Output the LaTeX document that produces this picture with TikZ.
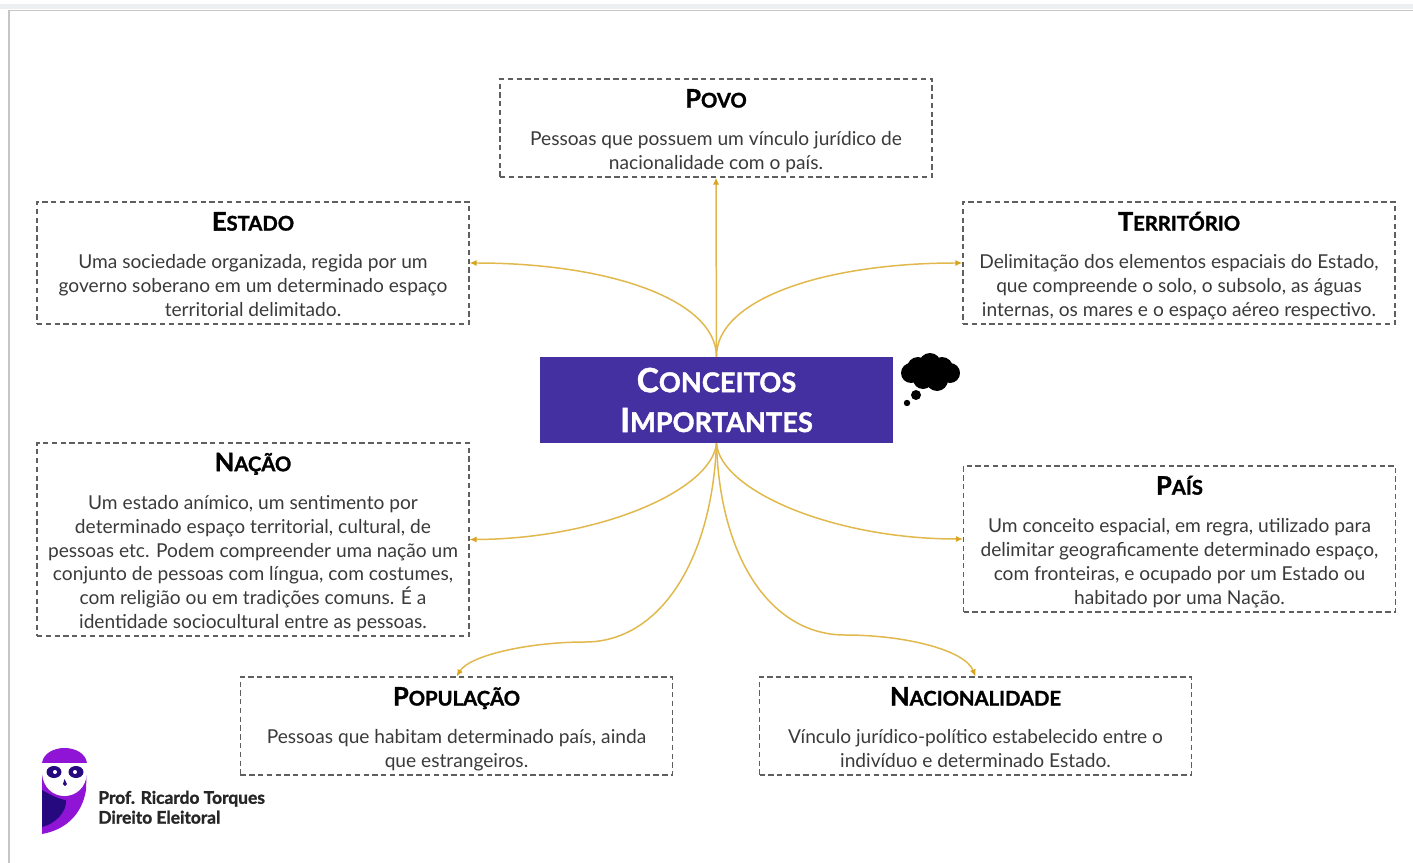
\documentclass[tikz,border=0pt]{standalone}
\usepackage{fontspec}
\setmainfont{Lato}[BoldFeatures={FakeBold=1.4}]
\usepackage{color}
\definecolor{gold}{HTML}{E0B84C}
\definecolor{goldtip}{HTML}{D9A520}
\definecolor{indigo}{HTML}{4430A0}
\definecolor{owlpurple}{HTML}{8F14D6}
\definecolor{owlnavy}{HTML}{26097E}
\definecolor{bodygray}{HTML}{3A3A3A}
\definecolor{boxgray}{HTML}{5F5F5F}
\definecolor{framegray}{HTML}{C4C6C8}
\definecolor{stripgray}{HTML}{EEEFF0}
\usetikzlibrary{arrows.meta}
\newcommand{\capt}[2]{{\color{black}\bfseries\fontsize{14.5}{16}\selectfont \rule{0pt}{16pt}#1\fontsize{11.5}{16}\selectfont #2}}
\newcommand{\captbig}[2]{{\bfseries\fontsize{19}{22.7}\selectfont #1\fontsize{15.5}{22.7}\selectfont #2}}
\tikzset{
  infobox/.style={draw=boxgray, dashed, dash pattern=on 3pt off 2pt, line width=0.6pt, align=center,
    text=bodygray, inner sep=0pt, minimum width=8.64cm, font=\fontsize{10.9}{13.6}\selectfont},
  mainbox/.style={fill=indigo, text=white, align=center, inner sep=0pt, minimum width=7.06cm, minimum height=1.72cm,
    font=\fontsize{19}{22.7}\selectfont},
  link/.style={draw=gold, line width=0.85pt, -{Latex[length=4pt,width=3.5pt,color=goldtip]}},
}
\begin{document}
\begin{tikzpicture}[scale=0.2]
        \useasboundingbox (0,0) rectangle (141.3,-86.3);
        % page frame
        \fill [stripgray] (0,-0.4) rectangle (141.3,-0.9);
        \draw [framegray, line width=1pt] (0.9,-86.3) -- (0.9,-1.05) -- (141.3,-1.05);
        % boxes
        \node [mainbox] (conceitos) at (71.65,-40) {\captbig{C}{ONCEITOS}\\\captbig{I}{MPORTANTES}};
        \node [infobox, minimum height=1.96cm] (povo) at (71.6,-12.8) {\capt{P}{OVO}\\[8pt]Pessoas que possuem um vínculo jurídico de\\nacionalidade com o país.\strut};
        \node [infobox, minimum height=2.44cm] (estado) at (25.3,-26.3) {\capt{E}{STADO}\\[8pt]Uma sociedade organizada, regida por um\\governo soberano em um determinado espaço\\territorial delimitado.\strut};
        \node [infobox, minimum height=2.44cm] (territorio) at (117.9,-26.3) {\capt{T}{ERRITÓRIO}\\[8pt]Delimitação dos elementos espaciais do Estado,\\que compreende o solo, o subsolo, as águas\\internas, os mares e o espaço aéreo respectivo.\strut};
        \node [infobox, minimum height=3.86cm] (nacao) at (25.3,-53.95) {\capt{N}{AÇÃO}\\[8pt]Um estado anímico, um sentimento por\\determinado espaço territorial, cultural, de\\pessoas etc. Podem compreender uma nação um\\conjunto de pessoas com língua, com costumes,\\com religião ou em tradições comuns. É a\\identidade sociocultural entre as pessoas.\strut};
        \node [infobox, minimum height=2.92cm] (pais) at (117.95,-53.9) {\capt{P}{AÍS}\\[8pt]Um conceito espacial, em regra, utilizado para\\delimitar geograficamente determinado espaço,\\com fronteiras, e ocupado por um Estado ou\\habitado por uma Nação.\strut};
        \node [infobox, minimum height=1.96cm] (populacao) at (45.65,-72.6) {\capt{P}{OPULAÇÃO}\\[8pt]Pessoas que habitam determinado país, ainda\\que estrangeiros.\strut};
        \node [infobox, minimum height=1.96cm] (nacionalidade) at (97.55,-72.6) {\capt{N}{ACIONALIDADE}\\[8pt]Vínculo jurídico-político estabelecido entre o\\indivíduo e determinado Estado.\strut};
        % connectors
        \draw [link] (conceitos.north) -- (povo.south);
        \draw [link] (conceitos.north) .. controls (71.6,-30) and (61,-26.3) .. (estado.east);
        \draw [link] (conceitos.north) .. controls (71.6,-30) and (82.2,-26.3) .. (territorio.west);
        \draw [link] (conceitos.south) .. controls (71.2,-49) and (60,-53.9) .. (nacao.east);
        \draw [link] (conceitos.south) .. controls (72,-49) and (83.2,-53.9) .. (pais.west);
        \draw [link] (conceitos.south) .. controls (71.2,-56) and (66,-64.2) .. (58.5,-64.2) .. controls (53,-64.2) and (47,-65.5) .. (populacao.north);
        \draw [link] (conceitos.south) .. controls (72,-56) and (77.2,-63.5) .. (84.5,-63.5) .. controls (90.5,-63.5) and (96.5,-65) .. (nacionalidade.north);
        % thought cloud
        \fill [black] (91.8,-36.8) circle (1.1) (93,-36.4) circle (1.1) (94.2,-36.8) circle (1.1) (95,-37.3) circle (1)
          (91.1,-37.3) circle (1) (92.3,-37.9) circle (1) (93.7,-38) circle (1.1) (93,-37.2) circle (1.4);
        \fill [black] (91.6,-39.5) circle (0.5);
        \fill [black] (90.7,-40.3) circle (0.32);
        % owl
        \fill [owlpurple] (4.2,-76.3) .. controls (4.5,-74.3) and (8.4,-74.3) .. (8.7,-76.3) -- cycle;
        \fill [owlpurple] (8.7,-76.3) -- (8.6,-79) .. controls (8.2,-81.5) and (6.5,-83) .. (4.2,-83.4) -- (4.2,-76.3) -- cycle;
        \fill [owlnavy] (4.2,-79) .. controls (5.2,-79.6) and (6.2,-80) .. (6.6,-80) .. controls (6.7,-81.2) and (5.5,-82.4) .. (4.2,-82.7) -- cycle;
        \fill [white] (4.2,-76.3) -- (8.7,-76.3) -- (8.7,-77.2) .. controls (8.6,-80.4) and (4.3,-80.4) .. (4.2,-77.2) -- cycle;
        \fill [owlnavy] (5.4,-77.2) ellipse (0.75 and 0.6) (7.6,-77.2) ellipse (0.75 and 0.6);
        \fill [white] (5.5,-77.2) circle (0.2) (7.5,-77.2) circle (0.2);
        \fill [owlnavy] (6.45,-77.9) -- (6.7,-78.4) -- (6.5,-78.6) -- (6.3,-78.4) -- cycle;
        \node [anchor=north west, inner sep=0pt, align=left, text=black!85, font=\bfseries\fontsize{9.9}{11.3}\selectfont] (autor) at (9.8,-79.05) {Prof. Ricardo Torques\\Direito Eleitoral};
\end{tikzpicture}
\end{document}
